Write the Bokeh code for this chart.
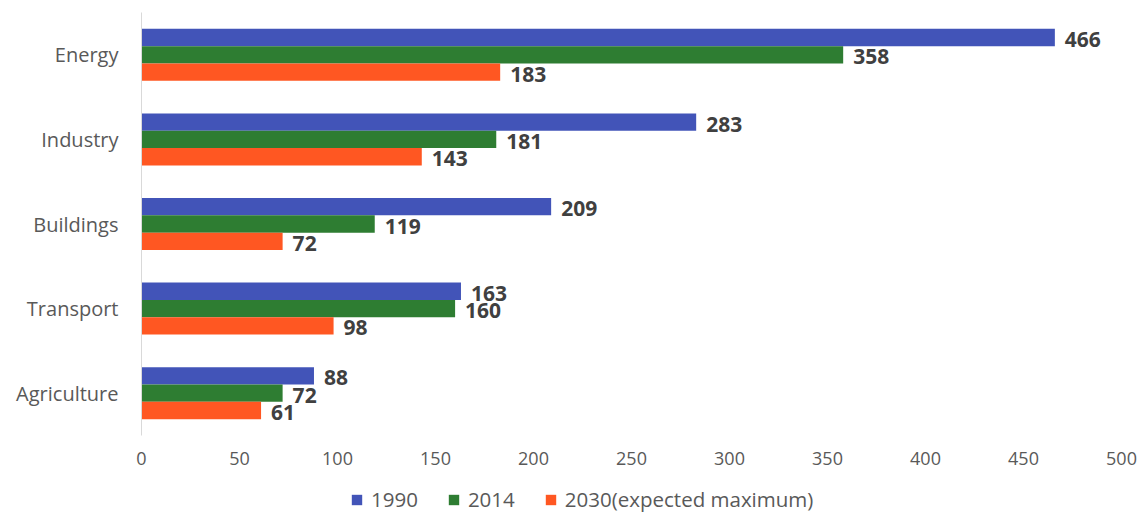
from bokeh.plotting import figure
from bokeh.layouts import column
from bokeh.models import ColumnDataSource, FactorRange, Range1d, Legend, LegendItem, SingleIntervalTicker
from bokeh.transform import dodge
from bokeh.core.properties import value
from bokeh.embed import file_html
from bokeh.resources import INLINE

# Emissions by sector (top to bottom as displayed)
sectors = ["Energy", "Industry", "Buildings", "Transport", "Agriculture"]
v1990 = [466, 283, 209, 163, 88]
v2014 = [358, 181, 119, 160, 72]
v2030 = [183, 143, 72, 98, 61]
series_names = ["1990", "2014", "2030(expected maximum)"]
colors = ["#4254B8", "#2E7D32", "#FF5722"]

FONT = "Open Sans"

factors = list(reversed(sectors))
src = ColumnDataSource(dict(sector=sectors, a=v1990, b=v2014, c=v2030,
                            la=[str(v) for v in v1990],
                            lb=[str(v) for v in v2014],
                            lc=[str(v) for v in v2030]))

p = figure(width=1146, height=478, output_backend="svg", toolbar_location=None,
           y_range=FactorRange(factors=factors), x_range=Range1d(0, 500),
           min_border_left=141, min_border_right=25, min_border_top=12, min_border_bottom=43)
p.outline_line_color = None
p.xgrid.grid_line_color = None
p.ygrid.grid_line_color = None
p.background_fill_color = "white"
p.border_fill_color = "white"

bh = 0.205
offs = [bh, 0.0, -bh]
cols = ["a", "b", "c"]
lcols = ["la", "lb", "lc"]
for col, lab, off, color in zip(cols, lcols, offs, colors):
    p.hbar(y=dodge("sector", off, range=p.y_range), right=col, left=0, height=bh,
           source=src, fill_color=color, line_color=None)
    p.text(x=col, y=dodge("sector", off, range=p.y_range), text=lab, source=src,
           x_offset=10, y_offset=2, text_baseline="middle", text_align="left",
           text_font=value(FONT), text_font_size="21px", text_font_style="bold",
           text_color="#404040")

# x axis
p.xaxis.ticker = SingleIntervalTicker(interval=50)
p.xaxis.axis_line_color = None
p.xaxis.major_tick_line_color = None
p.xaxis.minor_tick_line_color = None
p.xaxis.major_tick_out = 0
p.xaxis.minor_tick_out = 0
p.xaxis.major_label_text_font = FONT
p.xaxis.major_label_text_font_size = "18px"
p.xaxis.major_label_text_color = "#595959"
p.xaxis.major_label_standoff = 16

# y axis
p.yaxis.axis_line_color = "#d9d9d9"
p.yaxis.major_tick_line_color = None
p.yaxis.minor_tick_line_color = None
p.yaxis.major_tick_out = 0
p.yaxis.minor_tick_out = 0
p.yaxis.major_label_text_font = FONT
p.yaxis.major_label_text_font_size = "20px"
p.yaxis.major_label_text_color = "#595959"
p.yaxis.major_label_standoff = 23

# legend strip under the chart (swatch bars sit outside the visible range)
lg = figure(width=1146, height=35, output_backend="svg", toolbar_location=None,
            x_range=Range1d(0, 1), y_range=Range1d(0, 1),
            x_axis_location=None, y_axis_location=None,
            min_border=0, min_border_left=0, min_border_right=0, min_border_top=0, min_border_bottom=0)
lg.outline_line_color = None
lg.xgrid.grid_line_color = None
lg.ygrid.grid_line_color = None
lg.border_fill_color = "white"
swatches = [lg.hbar(y=[-10], right=[1], left=0, height=1, fill_color=c, line_color=None) for c in colors]

legend = Legend(items=[LegendItem(label=n, renderers=[r]) for n, r in zip(series_names, swatches)],
                orientation="horizontal", location=(209, 0), padding=3, margin=0,
                label_text_font=FONT, label_text_font_size="20.5px", label_text_color="#595959",
                glyph_width=13, glyph_height=13, spacing=29, label_standoff=8,
                border_line_color=None, background_fill_alpha=0)
lg.add_layout(legend)

open("out.html", "w").write(file_html(column(p, lg, spacing=0), INLINE))
